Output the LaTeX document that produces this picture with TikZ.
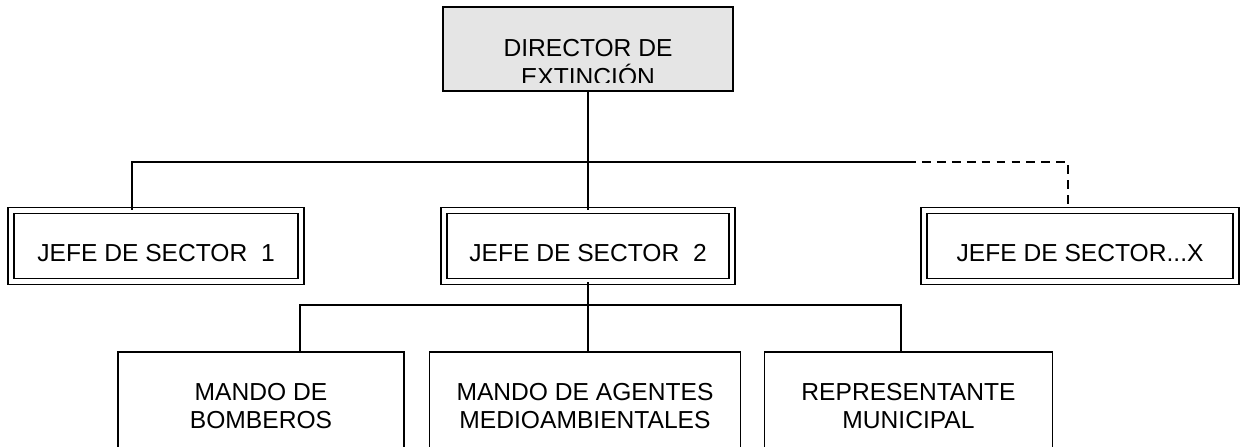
\documentclass[tikz,border=0pt]{standalone}
\usepackage{fontspec}
\setmainfont{Liberation Sans}
\begin{document}
\begin{tikzpicture}[x=0.02cm, y=-0.02cm,
    every node/.style={font=\fontsize{14}{15.4}\selectfont, align=center},
    dirbox/.style={draw, fill=gray!20, line width=0.9pt, minimum width=5.8cm, minimum height=1.68cm},
    jefebox/.style={draw, double, line width=1.05pt, double distance=2.3pt, minimum height=1.42cm, text height=0.64cm, text depth=0pt},
    mandobox/.style={draw, line width=0.9pt, minimum height=2.16cm},
    link/.style={line width=0.85pt}]
  \clip (0,0) rectangle (1246,446);
  \node[dirbox] (dir) at (588,49) {};
  \begin{scope}
    \clip (445,9) rectangle (731,83);
    \node[font=\fontsize{14}{16.5}\selectfont] (dirtext) at (588,62.5) {DIRECTOR DE\\EXTINCIÓN};
  \end{scope}
  \node[jefebox, minimum width=5.8cm] (jefe1) at (156,246) {JEFE DE SECTOR~~1};
  \node[jefebox, minimum width=5.76cm] (jefe2) at (588,246) {JEFE DE SECTOR~~2};
  \node[jefebox, minimum width=6.24cm] (jefex) at (1080,246) {JEFE DE SECTOR...X};
  \node[mandobox, minimum width=5.72cm] (mando1) at (261,406) {MANDO DE\\BOMBEROS};
  \node[mandobox, minimum width=6.22cm] (mando2) at (585,406) {MANDO DE AGENTES\\MEDIOAMBIENTALES};
  \node[mandobox, minimum width=5.76cm] (mando3) at (908.5,406) {REPRESENTANTE\\MUNICIPAL};
  \coordinate (busl) at (132,162);
  \coordinate (busm) at (907,162);
  \coordinate (busr) at (1068,162);
  \coordinate (subl) at (300,305);
  \coordinate (subr) at (901,305);
  \draw[link] (dir.south) -- (dir.south |- busl);
  \draw[link] (jefe1.north -| busl) -- (busl) -- (busm);
  \draw[link, dash pattern=on 5pt off 3.5pt] (busm) -- (busr) -- (jefex.north -| busr);
  \draw[link] (jefe2.north) -- (jefe2.north |- busl);
  \draw[link] (jefe2.south) -- (jefe2.south |- subl);
  \draw[link] (mando1.north -| subl) -- (subl) -- (subr) -- (mando3.north -| subr);
  \draw[link] (jefe2.south |- subl) -- (jefe2.south |- mando2.north);
\end{tikzpicture}
\end{document}
